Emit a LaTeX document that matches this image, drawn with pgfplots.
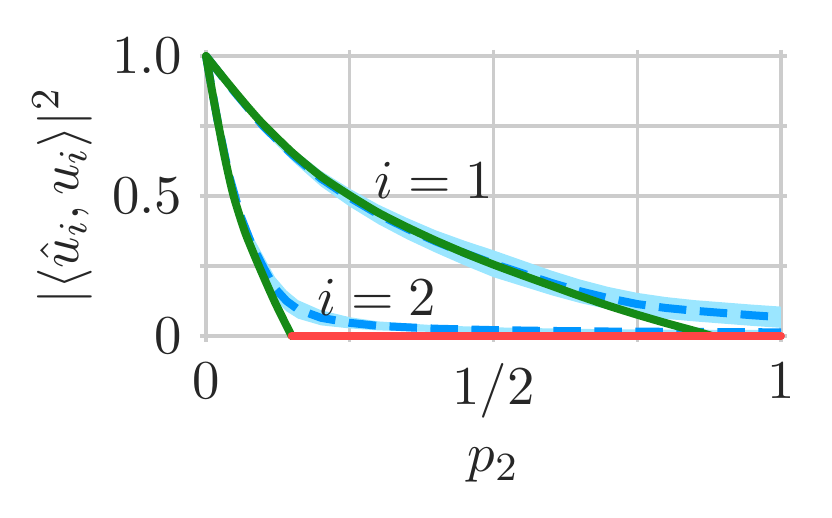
\documentclass[border=0pt]{standalone}
\usepackage{pgfplots}
\usepackage{pgfplotstable}
\pgfplotsset{compat=1.18}
\usepgfplotslibrary{fillbetween}

\definecolor{thgreen}{HTML}{168A16}
\definecolor{empblue}{HTML}{0096FF}
\definecolor{bandblue}{HTML}{9BE6FF}
\definecolor{zred}{HTML}{FF4545}
\definecolor{txt}{HTML}{262626}

% empirical mean with band, i = 1
\pgfplotstableread{
x mean lo hi
0 1 1 1
0.05 0.870 0.860 0.880
0.1 0.748 0.730 0.766
0.15 0.648 0.625 0.671
0.2 0.562 0.534 0.590
0.25 0.494 0.462 0.526
0.3 0.434 0.399 0.469
0.35 0.383 0.345 0.421
0.4 0.337 0.297 0.377
0.45 0.296 0.252 0.340
0.5 0.258 0.210 0.306
0.55 0.224 0.178 0.270
0.6 0.190 0.146 0.234
0.65 0.160 0.118 0.202
0.7 0.135 0.095 0.175
0.75 0.114 0.074 0.154
0.8 0.100 0.061 0.139
0.85 0.090 0.052 0.128
0.9 0.082 0.044 0.120
0.95 0.074 0.036 0.112
1 0.067 0.029 0.105
}\empone

% empirical mean with band, i = 2
\pgfplotstableread{
x mean lo hi
0 1 1 1
0.02 0.770 0.755 0.785
0.04 0.575 0.553 0.597
0.06 0.430 0.402 0.458
0.08 0.325 0.290 0.360
0.1 0.245 0.205 0.285
0.12 0.170 0.130 0.210
0.14 0.125 0.088 0.162
0.16 0.095 0.062 0.128
0.2 0.065 0.038 0.092
0.25 0.047 0.027 0.067
0.3 0.036 0.020 0.052
0.4 0.026 0.014 0.038
0.5 0.021 0.011 0.031
0.6 0.018 0.009 0.027
0.7 0.016 0.008 0.024
0.8 0.015 0.007 0.023
0.9 0.014 0.006 0.022
1 0.013 0.005 0.021
}\emptwo

\begin{document}
\begin{tikzpicture}[font=\fontsize{10.9}{13}\selectfont]
\begin{axis}[
    scale only axis,
    width=115pt, height=56pt,
    xmin=0, xmax=1, ymin=0, ymax=1,
    clip=false,
    axis line style={draw=none},
    xtick={0,0.25,0.5,0.75,1},
    xticklabels={$0$,,$1/2$,,$1$},
    ytick={0,0.25,0.5,0.75,1},
    yticklabels={$0$,,$0.5$,,$1.0$},
    grid=major,
    grid style={gray!40, line width=0.65pt},
    tick align=outside,
    major tick length=1.2pt,
    tick style={gray!40, line width=0.65pt},
    ticklabel style={text=txt, font=\fontsize{10.9}{13}\selectfont},
    xticklabel style={yshift=-0.8pt},
    yticklabel style={xshift=0pt},
    xlabel={$p_2$},
    ylabel={$|\langle \hat{u}_i, u_i\rangle|^2$},
    label style={font=\fontsize{10.9}{13}\selectfont},
    xlabel style={at={(axis description cs:0.5,-0.462)}, anchor=center, text=txt},
    ylabel style={at={(axis description cs:-0.25,0.5)}, anchor=center, text=txt},
]
% bands
\addplot[draw=none, name path=hione, forget plot] table[x=x, y=hi] {\empone};
\addplot[draw=none, name path=loone, forget plot] table[x=x, y=lo] {\empone};
\addplot[bandblue, draw=none] fill between[of=hione and loone];
\addplot[draw=none, name path=hitwo, forget plot] table[x=x, y=hi] {\emptwo};
\addplot[draw=none, name path=lotwo, forget plot] table[x=x, y=lo] {\emptwo};
\addplot[bandblue, draw=none] fill between[of=hitwo and lotwo];
% empirical means
\addplot[empblue, line width=1.6pt, dash pattern=on 5.5pt off 2.7pt] table[x=x, y=mean] {\empone};
\addplot[empblue, line width=1.6pt, dash pattern=on 5.5pt off 2.7pt] table[x=x, y=mean] {\emptwo};
% theory, i = 1
\addplot[thgreen, line width=1.6pt, line cap=round, line join=round, smooth, tension=0.4] coordinates {
(0,1) (0.025,0.936) (0.05,0.873) (0.075,0.812) (0.1,0.755) (0.15,0.655)
(0.2,0.570) (0.25,0.502) (0.3,0.440) (0.35,0.388) (0.4,0.340) (0.45,0.296)
(0.5,0.255) (0.55,0.217) (0.6,0.180) (0.65,0.143) (0.7,0.108) (0.75,0.076)
(0.8,0.046) (0.85,0.018) (0.88,0)
};
% theory, i = 2
\addplot[thgreen, line width=1.6pt, line cap=round, line join=round, smooth, tension=0.4] coordinates {
(0,1) (0.011,0.87) (0.022,0.75) (0.034,0.625) (0.048,0.5) (0.068,0.37)
(0.092,0.25) (0.12,0.12) (0.149,0)
};
% zero branch
\addplot[zred, line width=1.6pt, line cap=round] coordinates {(0.149,0) (1,0)};
\node[text=txt] at (axis cs:0.396,0.557) {$i = 1$};
\node[text=txt] at (axis cs:0.297,0.139) {$i = 2$};
\end{axis}
\pgfresetboundingbox
\useasboundingbox (-41.2pt,-36.4pt) rectangle (125.2pt,67.2pt);
\end{tikzpicture}
\end{document}
